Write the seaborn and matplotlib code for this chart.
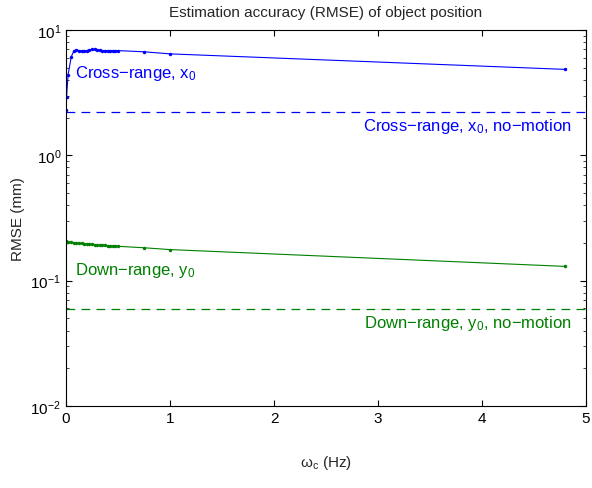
import pandas as pd
import matplotlib
matplotlib.use('Agg')
import matplotlib.pyplot as plt
import seaborn as sns
from matplotlib.ticker import LogLocator, FixedLocator

# cutoff frequency (Hz) and RMSE (mm)
wc = [0, 0.005, 0.02, 0.05, 0.075, 0.1, 0.125, 0.15, 0.175, 0.2, 0.225, 0.25,
      0.275, 0.3, 0.325, 0.35, 0.375, 0.4, 0.425, 0.45, 0.475, 0.5, 0.75, 1.0, 4.8]
rmse_x0 = [2.3, 2.9, 4.4, 6.1, 6.8, 6.95, 6.85, 6.8, 6.8, 6.85, 6.95, 7.0,
           7.0, 6.95, 6.9, 6.85, 6.85, 6.85, 6.85, 6.85, 6.85, 6.85, 6.7, 6.45, 4.85]
rmse_y0 = [0.206, 0.205, 0.204, 0.202, 0.201, 0.2, 0.199, 0.198, 0.197, 0.196, 0.195, 0.195,
           0.194, 0.193, 0.192, 0.192, 0.191, 0.19, 0.19, 0.189, 0.189, 0.188, 0.183, 0.177, 0.13]
nomotion_x0 = 2.2
nomotion_y0 = 0.059

blue = '#0000ff'
green = '#008000'

sns.set_style('ticks')
plt.rcParams['font.family'] = ['Liberation Sans', 'DejaVu Sans']
plt.rcParams['mathtext.fontset'] = 'custom'
plt.rcParams['mathtext.rm'] = 'Liberation Sans'
plt.rcParams['mathtext.it'] = 'Liberation Sans'
plt.rcParams['xtick.direction'] = 'in'
plt.rcParams['ytick.direction'] = 'in'
plt.rcParams['xtick.top'] = True
plt.rcParams['ytick.right'] = True

df = pd.DataFrame({
    'wc': wc * 2,
    'rmse': rmse_x0 + rmse_y0,
    'coord': ['x0'] * len(wc) + ['y0'] * len(wc),
})

fig = plt.figure(figsize=(5.92, 4.89), dpi=100)
ax = fig.add_axes([0.1115, 0.1677, 0.8785, 0.7689])

sns.lineplot(data=df, x='wc', y='rmse', hue='coord', palette=[blue, green],
             marker='o', markersize=2.5, markeredgewidth=0, linewidth=0.8,
             legend=False, ax=ax)
ax.axhline(nomotion_x0, color=blue, linestyle=(0, (7, 5)), linewidth=0.9)
ax.axhline(nomotion_y0, color=green, linestyle=(0, (7, 5)), linewidth=0.9)

ax.set_yscale('log')
ax.set_xlim(0, 5)
ax.set_ylim(0.01, 10)
ax.xaxis.set_major_locator(FixedLocator([0, 1, 2, 3, 4, 5]))
ax.yaxis.set_major_locator(LogLocator(base=10, numticks=10))
ax.yaxis.set_minor_locator(LogLocator(base=10, subs=range(2, 10), numticks=10))
ax.tick_params(which='major', length=4, width=0.8, labelsize=11, colors='black')
ax.tick_params(which='minor', length=2, width=0.6)
for s in ax.spines.values():
    s.set_linewidth(0.8)
    s.set_color('black')

ax.text(0.09, 4.6, 'Cross\u2212range, x$_0$', color=blue, fontsize=12, va='center')
ax.text(0.09, 0.122, 'Down\u2212range, y$_0$', color=green, fontsize=12, va='center')
ax.text(4.86, 1.72, 'Cross\u2212range, x$_0$, no\u2212motion', color=blue, fontsize=12,
        ha='right', va='center')
ax.text(4.86, 0.046, 'Down\u2212range, y$_0$, no\u2212motion', color=green, fontsize=12,
        ha='right', va='center')

ax.set_title('Estimation accuracy (RMSE) of object position', fontsize=11, pad=10)
ax.set_xlabel('\u03c9$_\\mathrm{c}$ (Hz)', fontsize=11, labelpad=20)
ax.set_ylabel('RMSE (mm)', fontsize=11, labelpad=4)

fig.savefig('out.png', dpi=100)
